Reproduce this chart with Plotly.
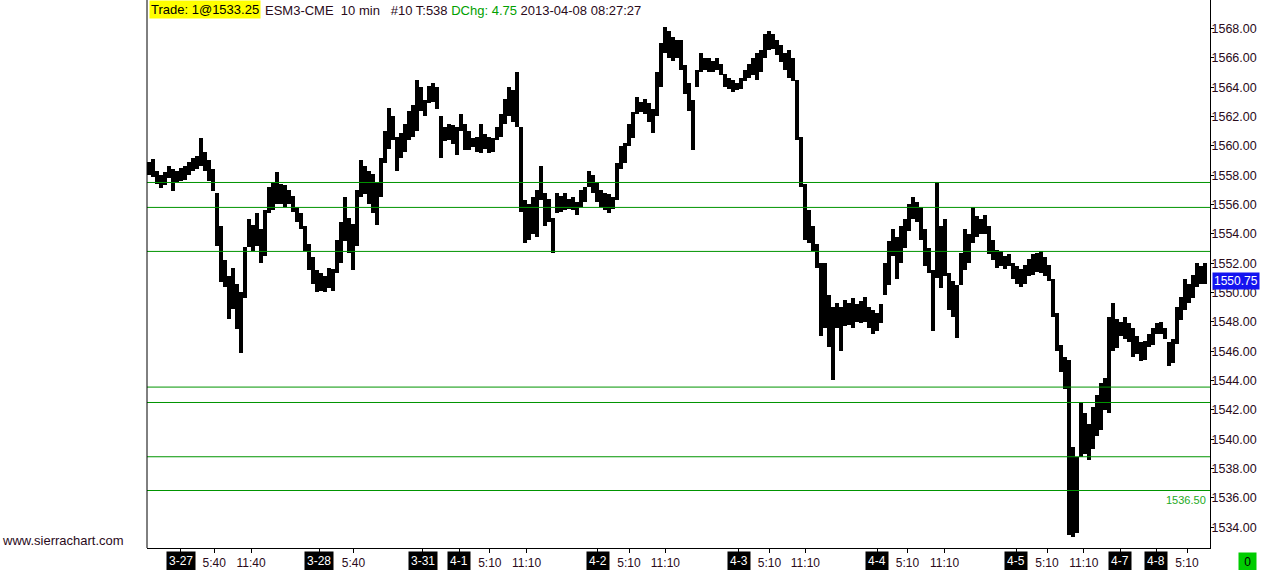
import plotly.graph_objects as go

# ESM3 10 min bars, one entry per ~4 px column of the chart (high / low)
highs = [
    1558.9, 1559.1, 1558.3, 1558.0, 1558.2, 1558.6, 1558.4, 1558.3, 1558.5, 1558.6,
    1558.9, 1559.2, 1559.3, 1560.5, 1559.6, 1559.0, 1558.4, 1556.8, 1554.5, 1552.2,
    1551.1, 1551.7, 1550.6, 1550.0, 1553.1, 1555.0, 1554.6, 1555.4, 1554.3, 1555.6,
    1557.2, 1557.5, 1558.2, 1557.4, 1557.3, 1557.0, 1556.6, 1555.8, 1555.4, 1554.5,
    1553.3, 1552.4, 1551.5, 1551.3, 1551.1, 1551.7, 1551.6, 1553.6, 1554.8, 1556.5,
    1555.1, 1554.7, 1557.0, 1559.0, 1558.6, 1558.3, 1558.1, 1557.5, 1559.2, 1561.0,
    1562.6, 1562.0, 1560.6, 1560.9, 1561.5, 1562.4, 1562.8, 1564.5, 1564.0, 1563.1,
    1564.1, 1564.3, 1564.0, 1562.0, 1561.3, 1561.5, 1561.4, 1561.3, 1562.2, 1561.5,
    1561.0, 1560.5, 1560.6, 1561.5, 1560.8, 1560.6, 1560.5, 1561.3, 1562.2, 1563.2,
    1564.0, 1563.8, 1565.0, 1561.3, 1556.3, 1556.0, 1556.5, 1557.0, 1558.6, 1556.8,
    1556.4, 1555.1, 1556.8, 1556.6, 1556.8, 1556.4, 1556.5, 1556.2, 1557.0, 1557.2,
    1558.3, 1558.0, 1557.5, 1557.0, 1556.8, 1556.7, 1556.5, 1558.8, 1560.0, 1560.2,
    1561.5, 1562.3, 1563.3, 1563.0, 1563.2, 1562.9, 1562.5, 1565.0, 1567.0, 1568.1,
    1567.8, 1567.4, 1567.2, 1567.2, 1565.5, 1564.3, 1563.1, 1565.2, 1566.3, 1566.0,
    1566.0, 1565.8, 1566.0, 1565.6, 1564.9, 1564.6, 1564.5, 1564.3, 1564.6, 1565.2,
    1565.6, 1566.0, 1566.3, 1566.5, 1567.6, 1567.8, 1567.6, 1567.2, 1566.9, 1566.3,
    1566.5, 1566.0, 1564.5, 1560.6, 1557.4, 1555.6, 1554.5, 1553.3, 1552.0, 1552.0,
    1549.8, 1549.0, 1549.3, 1549.0, 1549.5, 1549.3, 1549.6, 1549.2, 1549.4, 1549.7,
    1549.0, 1548.8, 1548.6, 1549.2, 1552.0, 1553.5, 1554.3, 1553.8, 1554.5, 1555.0,
    1556.0, 1556.5, 1556.2, 1555.8, 1554.3, 1553.0, 1551.5, 1557.5, 1554.5, 1555.0,
    1551.3, 1550.8, 1550.5, 1552.7, 1554.3, 1554.0, 1555.8, 1555.2, 1555.0, 1555.3,
    1554.5, 1553.6, 1552.9, 1552.8, 1552.5, 1552.6, 1552.0, 1551.8, 1551.6, 1551.9,
    1552.3, 1552.6, 1552.7, 1552.8, 1552.4, 1551.9, 1550.9, 1548.6, 1546.4, 1545.6,
    1545.4, 1539.5, 1538.8, 1542.5, 1541.8, 1541.0, 1542.2, 1543.0, 1543.8, 1544.2,
    1548.3, 1549.3, 1548.2, 1548.0, 1548.3, 1547.9, 1547.6, 1547.0, 1546.6, 1546.7,
    1547.2, 1547.6, 1547.9, 1548.0, 1547.6, 1546.6, 1546.8, 1549.0, 1549.7, 1550.9,
    1550.6, 1551.2, 1552.0, 1551.8, 1552.0,
]
lows = [
    1558.0, 1557.9, 1557.4, 1557.1, 1557.3, 1557.8, 1556.9, 1557.5, 1557.6, 1557.7,
    1558.0, 1558.3, 1558.4, 1558.6, 1558.3, 1557.6, 1556.9, 1553.2, 1550.7, 1550.4,
    1548.2, 1548.9, 1547.5, 1545.9, 1549.6, 1553.1, 1552.8, 1553.2, 1552.0, 1552.5,
    1555.4, 1555.6, 1556.0, 1556.0, 1555.8, 1556.0, 1555.5, 1554.8, 1554.3, 1552.8,
    1551.5, 1550.6, 1550.0, 1550.1, 1550.0, 1550.3, 1550.1, 1551.3, 1552.0, 1553.5,
    1552.7, 1551.5, 1553.2, 1556.5, 1556.7, 1556.0, 1555.4, 1554.6, 1556.5, 1558.8,
    1559.8, 1560.4, 1558.3, 1559.2, 1559.6, 1560.4, 1560.6, 1561.0, 1562.4, 1562.0,
    1562.9, 1563.0, 1562.5, 1559.2, 1560.3, 1560.4, 1560.1, 1559.4, 1561.0, 1559.7,
    1559.7, 1559.9, 1559.6, 1559.5, 1559.8, 1559.5, 1559.6, 1560.4, 1560.6, 1561.5,
    1562.0, 1561.6, 1561.3, 1555.5, 1553.4, 1553.6, 1554.0, 1553.8, 1556.3, 1554.5,
    1554.8, 1552.7, 1555.4, 1555.5, 1555.6, 1555.7, 1555.6, 1555.3, 1555.8, 1556.2,
    1557.2, 1556.8, 1556.2, 1555.8, 1555.6, 1555.4, 1555.7, 1556.3, 1558.4, 1558.8,
    1560.0, 1560.5, 1562.2, 1562.3, 1562.2, 1561.6, 1560.9, 1562.0, 1564.0, 1566.3,
    1566.0, 1565.8, 1566.0, 1565.2, 1563.5, 1562.4, 1559.7, 1564.0, 1565.0, 1565.2,
    1565.0, 1565.0, 1565.2, 1564.8, 1564.0, 1563.9, 1563.7, 1563.8, 1563.9, 1564.4,
    1564.6, 1564.8, 1564.5, 1565.0, 1566.0, 1566.5, 1566.6, 1566.2, 1565.7, 1565.2,
    1564.6, 1564.4, 1560.4, 1557.2, 1553.6, 1553.4, 1552.8, 1551.7, 1547.0, 1547.6,
    1546.3, 1544.0, 1547.6, 1546.0, 1547.7, 1547.8, 1547.6, 1548.0, 1547.9, 1548.0,
    1547.6, 1547.2, 1547.4, 1547.9, 1549.8, 1550.5, 1552.5, 1550.9, 1552.0, 1553.0,
    1554.2, 1555.0, 1554.8, 1553.6, 1551.8, 1551.3, 1547.4, 1551.0, 1550.3, 1551.1,
    1548.8, 1548.3, 1546.9, 1550.5, 1551.5, 1552.0, 1553.4, 1553.8, 1554.0, 1554.0,
    1552.6, 1552.2, 1551.7, 1551.8, 1551.6, 1551.8, 1550.9, 1550.6, 1550.4, 1550.6,
    1551.1, 1551.2, 1551.4, 1551.3, 1551.1, 1550.8, 1548.3, 1546.0, 1544.6, 1543.4,
    1533.5, 1533.3, 1533.6, 1538.8, 1539.0, 1538.6, 1539.3, 1540.2, 1540.6, 1542.0,
    1541.8, 1546.0, 1546.2, 1547.0, 1546.8, 1546.6, 1545.6, 1545.8, 1545.3, 1545.4,
    1546.3, 1546.4, 1547.2, 1547.2, 1546.8, 1545.0, 1545.2, 1546.5, 1548.1, 1548.8,
    1549.3, 1549.6, 1550.4, 1550.6, 1550.6,
]

# horizontal price levels
levels = [1557.5, 1555.8, 1552.8, 1543.55, 1542.5, 1538.8, 1536.5]
level_label = "1536.50"
last_price = 1550.75

# time axis labels (positions in bar columns)
time_pos = [16.3, 25.5, 51.1, 85.2, 94.4, 120.0, 129.1, 155.1, 164.1, 189.6, 198.9, 224.5, 233.7, 259.5]
time_text = ["5:40", "11:40", "5:40", "5:10", "11:10", "5:10", "11:10",
             "5:10", "11:10", "5:10", "11:10", "5:10", "11:10", "5:10"]
date_pos = [7.9, 42.6, 68.4, 77.5, 112.2, 147.4, 182.1, 216.8, 242.8, 251.8]
date_text = ["3-27", "3-28", "3-31", "4-1", "4-2", "4-3", "4-4", "4-5", "4-7", "4-8"]

font = "Liberation Sans"
txt = "#2a0a1a"
green = "#009400"

x = list(range(len(highs)))
fig = go.Figure()
fig.add_trace(go.Bar(x=x, y=[h - l for h, l in zip(highs, lows)], base=lows,
                     width=0.95, marker=dict(color="black", line=dict(width=0)),
                     hoverinfo="skip", showlegend=False))

for lv in levels:
    fig.add_hline(y=lv, line=dict(color=green, width=1))

# left border
fig.add_shape(type="line", xref="paper", yref="paper", x0=0, x1=0, y0=0, y1=1,
              line=dict(color="black", width=1))

ticks_all = time_pos + date_pos
text_all = time_text + [""] * len(date_pos)
fig.update_xaxes(range=[-0.5, 265.25], tickvals=ticks_all, ticktext=text_all,
                 ticks="outside", ticklen=4, tickcolor="black", showline=True,
                 linecolor="black", linewidth=1, showgrid=False, zeroline=False,
                 tickfont=dict(family=font, size=12, color=txt))
fig.update_yaxes(range=[1532.58, 1569.94], side="right", dtick=2, tick0=1534,
                 tickformat=".2f", ticks="outside", ticklen=3, tickcolor="black",
                 ticklabelstandoff=-5,
                 showline=True, linecolor="black", linewidth=1, showgrid=False,
                 zeroline=False, tickfont=dict(family=font, size=12.5, color=txt))

for p, t in zip(date_pos, date_text):
    fig.add_annotation(x=p, y=0, xref="x", yref="paper", yanchor="top", yshift=-3,
                       text=t, showarrow=False, bgcolor="black", borderpad=2,
                       font=dict(family=font, size=12, color="white"))

fig.add_annotation(x=1, y=last_price, xref="paper", yref="y", xanchor="left", xshift=2,
                   text=f"{last_price:.2f}", showarrow=False, bgcolor="#1414f0", borderpad=1,
                   font=dict(family=font, size=12, color="white"))
fig.add_annotation(x=1, y=levels[-1], xref="paper", yref="y", xanchor="right", yanchor="top",
                   xshift=-2, yshift=-1, text=level_label, showarrow=False,
                   font=dict(family=font, size=11, color="#22aa22"))

# header line
fig.add_annotation(x=0, y=1, xref="paper", yref="paper", xanchor="left", yanchor="top",
                   xshift=2, text="Trade: 1@1533.25", showarrow=False, bgcolor="#ffff00",
                   borderpad=1, font=dict(family=font, size=13, color="black"))
fig.add_annotation(x=(263 - 147) / 1063, y=1, xref="paper", yref="paper", xanchor="left",
                   yanchor="top", yshift=-1,
                   text="ESM3-CME&nbsp;&nbsp;10 min&nbsp;&nbsp;&nbsp;#10 T:538 "
                        "<span style='color:#00a000'>DChg: 4.75</span> 2013-04-08 08:27:27",
                   showarrow=False, font=dict(family=font, size=13, color=txt))

fig.add_annotation(x=-147 / 1063, y=(548 - 540) / 548, xref="paper", yref="paper",
                   xanchor="left", yanchor="middle", text="www.sierrachart.com",
                   showarrow=False, font=dict(family=font, size=13, color=txt))
fig.add_annotation(x=(1257 - 147) / 1063, y=0, xref="paper", yref="paper", yanchor="top",
                   yshift=-4, text="&nbsp;0&nbsp;", showarrow=False, bgcolor="#00cc00",
                   borderpad=2, font=dict(family=font, size=12, color="black"))

fig.update_layout(width=1267, height=570, margin=dict(l=147, r=57, t=0, b=22),
                  paper_bgcolor="white", plot_bgcolor="white", bargap=0,
                  showlegend=False)
fig.write_html("out.html", config={"displayModeBar": False},
               post_script="document.body.style.margin='0';")
